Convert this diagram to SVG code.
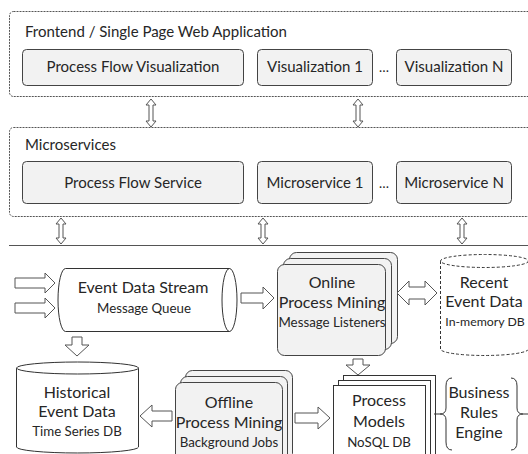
<svg xmlns="http://www.w3.org/2000/svg" width="528" height="454" viewBox="0 0 528 454">
<style>
text{font-family:Lato,"Open Sans","Liberation Sans",sans-serif;fill:#262626;text-anchor:middle}
.t{font-size:15px}
.n{font-size:16px}
.s{font-size:13.3px}
.grp{fill:none;stroke:#555;stroke-width:1;stroke-dasharray:2 1}
.box{fill:#f2f2f2;stroke:#444;stroke-width:1}
.arr{fill:#fff;stroke:#555;stroke-width:1}
.ln{fill:none;stroke:#333;stroke-width:1}
</style>
<rect width="528" height="454" fill="#fff"/>
<g id="frontend">
<rect class="grp" x="9.5" y="11.5" width="530" height="85" rx="4"/>
<text class="t" x="25" y="37" style="text-anchor:start">Frontend / Single Page Web Application</text>
</g>
<g id="pfv"><rect class="box" x="22.5" y="49.5" width="221" height="36" rx="4"/><text class="t" x="133" y="72">Process Flow Visualization</text></g>
<g id="vis1"><rect class="box" x="257.5" y="49.5" width="115" height="36" rx="4"/><text class="t" x="315" y="72">Visualization 1</text></g>
<text class="s" x="384" y="72">…</text>
<g id="visn"><rect class="box" x="396.5" y="49.5" width="115" height="36" rx="4"/><text class="t" x="454" y="72">Visualization N</text></g>
<g id="microservices">
<rect class="grp" x="9.5" y="127.5" width="530" height="89" rx="4"/>
<text class="t" x="25" y="150" style="text-anchor:start">Microservices</text>
</g>
<g id="pfs"><rect class="box" x="22.5" y="161.5" width="221" height="42" rx="4"/><text class="t" x="133" y="188">Process Flow Service</text></g>
<g id="ms1"><rect class="box" x="257.5" y="161.5" width="115" height="42" rx="4"/><text class="t" x="315" y="188">Microservice 1</text></g>
<text class="s" x="384" y="188">…</text>
<g id="msn"><rect class="box" x="396.5" y="161.5" width="115" height="42" rx="4"/><text class="t" x="454" y="188">Microservice N</text></g>
<line x1="9" y1="245.5" x2="528" y2="245.5" stroke="#555" stroke-width="1"/>
<g id="eventstream">
<path class="ln" d="M65.5,268.5 H229.5 M65.5,331.5 H229.5 M65.5,268.5 A7.5,31.5 0 0 0 65.5,331.5" fill="#fff"/>
<ellipse class="ln" cx="229.5" cy="300" rx="7.5" ry="31.5"/>
<text class="n" x="143" y="293">Event Data Stream</text>
<text class="s" x="144" y="313">Message Queue</text>
</g>
<g id="online">
<rect class="box" x="289.5" y="252.5" width="108" height="91" rx="7"/>
<rect class="box" x="283.5" y="258.5" width="108" height="91" rx="7"/>
<rect class="box" x="277.5" y="264.5" width="108" height="91" rx="7"/>
<text class="n" x="332" y="288">Online</text>
<text class="n" x="332" y="308">Process Mining</text>
<text class="s" x="332" y="327">Message Listeners</text>
</g>
<g id="recent">
<path d="M440.5,261 V349 A44,6.5 0 0 0 528.5,349 V261" fill="#fff" stroke="#333" stroke-dasharray="3 2"/>
<ellipse cx="484.5" cy="261" rx="44" ry="6.5" fill="#fff" stroke="#333" stroke-dasharray="3 2"/>
<text class="n" x="484" y="288">Recent</text>
<text class="n" x="484" y="307">Event Data</text>
<text x="485" y="326" style="font-size:12.3px">In-memory DB</text>
</g>
<g id="historical">
<path d="M16.5,368 V447 A61,6 0 0 0 138.5,447 V368" fill="#fff" stroke="#333"/>
<ellipse cx="77.5" cy="368" rx="61" ry="6" fill="#fff" stroke="#333"/>
<text class="n" x="77" y="398">Historical</text>
<text class="n" x="77" y="417">Event Data</text>
<text class="s" x="77" y="436">Time Series DB</text>
</g>
<g id="offline">
<rect class="box" x="185.5" y="370.5" width="107" height="90" rx="7"/>
<rect class="box" x="180.5" y="376.5" width="107" height="90" rx="7"/>
<rect class="box" x="175.5" y="382.5" width="107" height="90" rx="7"/>
<text class="n" x="229" y="408">Offline</text>
<text class="n" x="229" y="428">Process Mining</text>
<text class="s" x="229" y="447">Background Jobs</text>
</g>
<g id="models">
<rect x="343.5" y="375.5" width="92" height="90" fill="#fff" stroke="#333"/>
<rect x="338.5" y="380.5" width="92" height="90" fill="#fff" stroke="#333"/>
<rect x="333.5" y="385.5" width="92" height="90" fill="#fff" stroke="#333"/>
<text class="n" x="379" y="406">Process</text>
<text class="n" x="379" y="427">Models</text>
<text class="s" x="379" y="447">NoSQL DB</text>
</g>
<g id="rules">
<path class="ln" d="M452,378 Q446,378 446,386 V408 Q446,414 440,414 Q446,414 446,420 V442 Q446,450 452,450 M440,414 H434"/>
<path class="ln" d="M511,378 Q517,378 517,386 V408 Q517,414 523,414 Q517,414 517,420 V442 Q517,450 511,450 M523,414 H528"/>
<text class="n" x="479" y="398">Business</text>
<text class="n" x="479" y="418">Rules</text>
<text class="n" x="479" y="438">Engine</text>
</g>
<g id="connectors">
<polygon class="arr" points="151,99 156,105 153,105 153,121 156,121 151,127 146,121 149,121 149,105 146,105"/>
<polygon class="arr" points="358,99 363,105 360,105 360,121 363,121 358,127 353,121 356,121 356,105 353,105"/>
<polygon class="arr" points="61,218 66,224 63,224 63,238 66,238 61,244 56,238 59,238 59,224 56,224"/>
<polygon class="arr" points="263,218 268,224 265,224 265,238 268,238 263,244 258,238 261,238 261,224 258,224"/>
<polygon class="arr" points="462,218 467,224 464,224 464,238 467,238 462,244 457,238 460,238 460,224 457,224"/>
<polygon class="arr" points="15,278 45,278 45,273 55,283 45,293 45,288 15,288"/>
<polygon class="arr" points="15,303 45,303 45,298 55,308 45,318 45,313 15,313"/>
<polygon class="arr" points="241,293 263,293 263,287 274,298 263,309 263,303 241,303"/>
<polygon class="arr" points="72,337 82,337 82,345 89,345 77,356 65,345 72,345"/>
<polygon class="arr" points="397,293 409,281 409,287 425,287 425,281 437,293 425,305 425,299 409,299 409,305"/>
<polygon class="arr" points="353,359 363,359 363,365 370,365 358,375 346,365 353,365"/>
<polygon class="arr" points="295,413 318,413 318,407 330,418 318,429 318,423 295,423"/>
<polygon class="arr" points="172,411 152,411 152,405 140,416 152,427 152,421 172,421"/>
</g>
</svg>
